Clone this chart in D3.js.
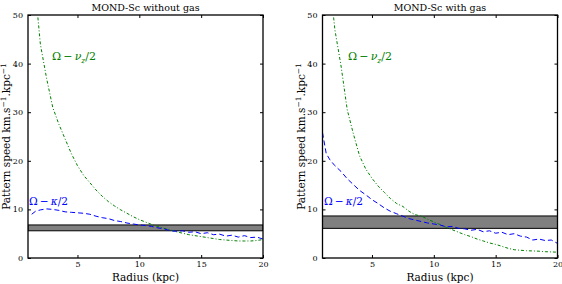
<!DOCTYPE html>
<html>
<head>
<meta charset="utf-8">
<script src="https://cdn.jsdelivr.net/npm/d3@7"></script>
<style>
  body { margin: 0; background: #fff; }
  .tick text { font-size: 8px; fill: #000; }
  .tick line { stroke: #000; }
</style>
</head>
<body>
<div id="main"></div>
<script>
// ---- data ----
var titles = ["MOND-Sc without gas", "MOND-Sc with gas"];
var xTicks = [5, 10, 15, 20];
var yTicks = [0, 10, 20, 30, 40, 50];

// left panel: without gas
var leftNuR = [1.8,2,2.5,3,3.5,4,4.5,5,5.5,6,6.5,7,7.5,8,8.5,9,9.5,10,10.5,11,11.5,12,12.5,13,13.5,14,14.5,15,15.5,16,16.5,17,17.5,18,18.5,19,19.5,20];
var leftNuV = [49.5,44,37,31,27.5,24.5,21.5,19,17,15.5,14,12.7,11.6,10.7,9.9,9.2,8.5,7.9,7.4,6.9,6.5,6.1,5.8,5.4,5.1,4.8,4.6,4.4,4.2,4.0,3.8,3.7,3.6,3.5,3.5,3.5,3.6,3.8];
var leftKapR = [1.3,1.6,2,2.5,3,3.5,4,4.5,5,5.5,6,6.5,7,7.5,8,8.5,9,9.5,10,10.5,11,11.5,12,12.5,13,13.5,14,14.5,15,15.5,16,16.5,17,17.5,18,18.5,19,19.5,20];
var leftKapV = [9.0,9.6,9.9,10.1,10.0,9.8,9.5,9.4,9.3,9.2,9.0,8.6,8.3,8.1,7.7,7.5,7.2,7.0,6.8,6.7,6.5,6.2,6.0,5.6,5.5,5.6,5.3,5.4,5.0,5.2,4.8,4.9,4.5,4.7,4.3,4.6,4.2,4.3,3.9];
var leftBand = [5.6, 6.8];

// right panel: with gas
var rightNuR = [1.9,2,2.5,3,3.5,4,4.5,5,5.5,6,6.5,7,7.5,8,8.5,9,9.5,10,10.5,11,11.5,12,12.5,13,13.5,14,14.5,15,15.5,16,16.5,17,17.5,18,18.5,19,19.5,20];
var rightNuV = [49.5,47,39.5,30.5,25.5,21,18.3,16.4,14.8,13.5,12.2,11.2,10.6,9.6,8.9,8.6,8,7.4,6.9,6.3,5.8,5.3,4.8,4.4,3.9,3.5,3.1,2.8,2.4,2.0,1.7,1.6,1.5,1.45,1.4,1.3,1.25,1.2];
var rightKapR = [1,1.3,1.6,2,2.5,3,3.5,4,4.5,5,5.5,6,6.5,7,7.5,8,8.5,9,9.5,10,10.5,11,11.5,12,12.5,13,13.5,14,14.5,15,15.5,16,16.5,17,17.5,18,18.5,19,19.5,20];
var rightKapV = [25.8,21.5,20.2,19,17.8,16.3,15.1,13.9,13,12,11.2,10.3,9.6,9.1,8.6,8.1,7.8,7.5,7.2,7.0,6.8,6.4,6.5,6.1,6.0,5.7,5.9,5.4,5.6,5.1,5.3,4.8,5.0,4.5,4.3,3.7,3.9,3.6,3.7,3.0];
var rightBand = [6.1, 8.65];

var ctx = {
    w: 562,
    h: 284,
    top: 15,
    bottom: 258,
    green: "#008000",
    blue: "#0000ff",
    font: "'DejaVu Serif', 'Liberation Serif', serif"
};

var panels = [
    {x0: 28, x1: 263, title: titles[0], nuR: leftNuR, nuV: leftNuV, kapR: leftKapR, kapV: leftKapV, band: leftBand,
     nuLab: [52, 60], kapLab: [29, 205]},
    {x0: 322.5, x1: 557.5, title: titles[1], nuR: rightNuR, nuV: rightNuV, kapR: rightKapR, kapV: rightKapV, band: rightBand,
     nuLab: [348, 60], kapLab: [324, 205]}
];

var zip = function(a, b){ return a.map(function(d, i){ return [d, b[i]]; }); };

var drawPanel = function(svg, p, idx){
    var x = d3.scaleLinear().domain([1, 20]).range([p.x0, p.x1]);
    var y = d3.scaleLinear().domain([0, 50]).range([ctx.bottom, ctx.top]);
    var g = svg.append("g").attr("id", "panel" + idx);

    g.append("clipPath").attr("id", "clip" + idx)
      .append("rect")
      .attr("x", p.x0).attr("y", ctx.top)
      .attr("width", p.x1 - p.x0).attr("height", ctx.bottom - ctx.top);

    var plot = g.append("g").attr("clip-path", "url(#clip" + idx + ")");

    // pattern speed band
    plot.append("rect")
      .attr("x", x(1)).attr("width", x(20) - x(1))
      .attr("y", y(p.band[1])).attr("height", y(p.band[0]) - y(p.band[1]))
      .attr("fill", "#808080")
      .attr("stroke", "#000")
      .attr("stroke-width", 1);

    var line = d3.line().x(function(d){ return x(d[0]); }).y(function(d){ return y(d[1]); });

    plot.append("path")
      .attr("d", line(zip(p.nuR, p.nuV)))
      .attr("fill", "none")
      .attr("stroke", ctx.green)
      .attr("stroke-width", 1)
      .attr("stroke-dasharray", "3,2,1,2");

    plot.append("path")
      .attr("d", line(zip(p.kapR, p.kapV)))
      .attr("fill", "none")
      .attr("stroke", ctx.blue)
      .attr("stroke-width", 1)
      .attr("stroke-dasharray", "5,3");

    // axes, ticks inward on all four sides
    g.append("g").attr("transform", "translate(0," + ctx.bottom + ")")
      .call(d3.axisBottom(x).tickValues(xTicks).tickSizeInner(-3).tickSizeOuter(0).tickPadding(3))
      .call(function(s){ s.select(".domain").remove(); });
    g.append("g").attr("transform", "translate(0," + ctx.top + ")")
      .call(d3.axisTop(x).tickValues(xTicks).tickSizeInner(-3).tickSizeOuter(0).tickFormat(""))
      .call(function(s){ s.select(".domain").remove(); });
    g.append("g").attr("transform", "translate(" + p.x0 + ",0)")
      .call(d3.axisLeft(y).tickValues(yTicks).tickSizeInner(-3).tickSizeOuter(0).tickPadding(5))
      .call(function(s){ s.select(".domain").remove(); });
    g.append("g").attr("transform", "translate(" + p.x1 + ",0)")
      .call(d3.axisRight(y).tickValues(yTicks).tickSizeInner(-3).tickSizeOuter(0).tickFormat(""))
      .call(function(s){ s.select(".domain").remove(); });
    // d3 puts font-family="sans-serif" on every axis group; take it back
    g.selectAll(".tick").select(function(){ return this.parentNode; }).attr("font-family", null);
    g.selectAll(".tick text").style("font-family", ctx.font);

    // frame
    g.append("rect")
      .attr("x", p.x0).attr("y", ctx.top)
      .attr("width", p.x1 - p.x0).attr("height", ctx.bottom - ctx.top)
      .attr("fill", "none").attr("stroke", "#000").attr("stroke-width", 1.3);

    // title
    var cx = (p.x0 + p.x1) / 2;
    g.append("text").attr("x", cx).attr("y", 11)
      .attr("text-anchor", "middle").style("font-size", "9.5px")
      .text(p.title);

    // x label
    g.append("text").attr("x", cx).attr("y", 281)
      .attr("text-anchor", "middle").style("font-size", "10.5px")
      .text("Radius (kpc)");

    // y label
    var yl = g.append("text")
      .attr("transform", "translate(" + (p.x0 - 18) + "," + ((ctx.top + ctx.bottom) / 2) + ") rotate(-90)")
      .attr("text-anchor", "middle").style("font-size", "10.5px");
    yl.append("tspan").text("Pattern speed km.s");
    yl.append("tspan").attr("dy", -4).style("font-size", "7.5px").text("\u22121");
    yl.append("tspan").attr("dy", 4).text(".kpc");
    yl.append("tspan").attr("dy", -4).style("font-size", "7.5px").text("\u22121");

    // curve labels
    var nl = g.append("text").attr("x", p.nuLab[0]).attr("y", p.nuLab[1])
      .attr("fill", ctx.green).style("font-size", "11px")
      .attr("textLength", 44).attr("lengthAdjust", "spacingAndGlyphs");
    nl.append("tspan").text("\u03a9\u2009\u2212\u2009");
    nl.append("tspan").style("font-style", "italic").text("\u03bd");
    nl.append("tspan").attr("dy", 2.5).style("font-size", "7.5px").style("font-style", "italic").text("z");
    nl.append("tspan").attr("dy", -2.5).text("/2");

    var kl = g.append("text").attr("x", p.kapLab[0]).attr("y", p.kapLab[1])
      .attr("fill", ctx.blue).style("font-size", "11px")
      .attr("textLength", 39).attr("lengthAdjust", "spacingAndGlyphs");
    kl.append("tspan").text("\u03a9\u2009\u2212\u2009");
    kl.append("tspan").style("font-style", "italic").text("\u03ba");
    kl.append("tspan").text("/2");
};

var createViz = function(){
    var svg = d3.select("#main").append("svg")
      .attr("width", ctx.w)
      .attr("height", ctx.h)
      .style("font-family", ctx.font);
    panels.forEach(function(p, i){ drawPanel(svg, p, i); });
};

createViz();
</script>
</body>
</html>
